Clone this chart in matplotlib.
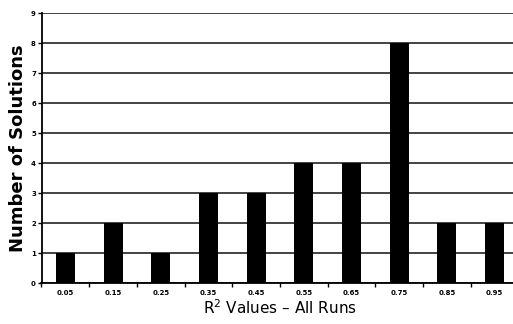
import matplotlib
matplotlib.use("Agg")
import matplotlib.pyplot as plt
import numpy as np

categories = ["0.05", "0.15", "0.25", "0.35", "0.45", "0.55", "0.65", "0.75", "0.85", "0.95"]
counts = [1, 2, 1, 3, 3, 4, 4, 8, 2, 2]

fig = plt.figure(figsize=(5.13, 3.24), dpi=100)
ax = fig.add_axes([41.5 / 513, 41 / 324, 477 / 513, 270 / 324])

x = np.arange(len(categories))
ax.bar(x, counts, width=0.4, color="black", zorder=3)

ax.set_xlim(-0.5, len(categories) - 0.5)
ax.set_ylim(0, 9)
ax.set_yticks(range(0, 10))
ax.yaxis.grid(True, color="#111111", linewidth=1.1, zorder=0)

ax.set_xticks(x)
ax.set_xticklabels(categories, fontsize=5, fontweight="bold")
ax.set_xticks(np.arange(-0.5, len(categories)), minor=True)
ax.tick_params(axis="x", which="major", length=0, pad=5)
ax.tick_params(axis="x", which="minor", length=3, width=1, direction="out")
ax.tick_params(axis="y", labelsize=5, length=3, width=1, pad=1)
for lab in ax.get_yticklabels():
    lab.set_fontweight("bold")

for side in ["top", "right"]:
    ax.spines[side].set_visible(False)
ax.spines["left"].set_linewidth(1.3)
ax.spines["bottom"].set_linewidth(1.3)

ax.set_ylabel("Number of Solutions", fontsize=13, fontweight="bold", labelpad=3)
ax.set_xlabel("R$^2$ Values – All Runs", fontsize=11, labelpad=2)

fig.savefig("out.png", dpi=100)
